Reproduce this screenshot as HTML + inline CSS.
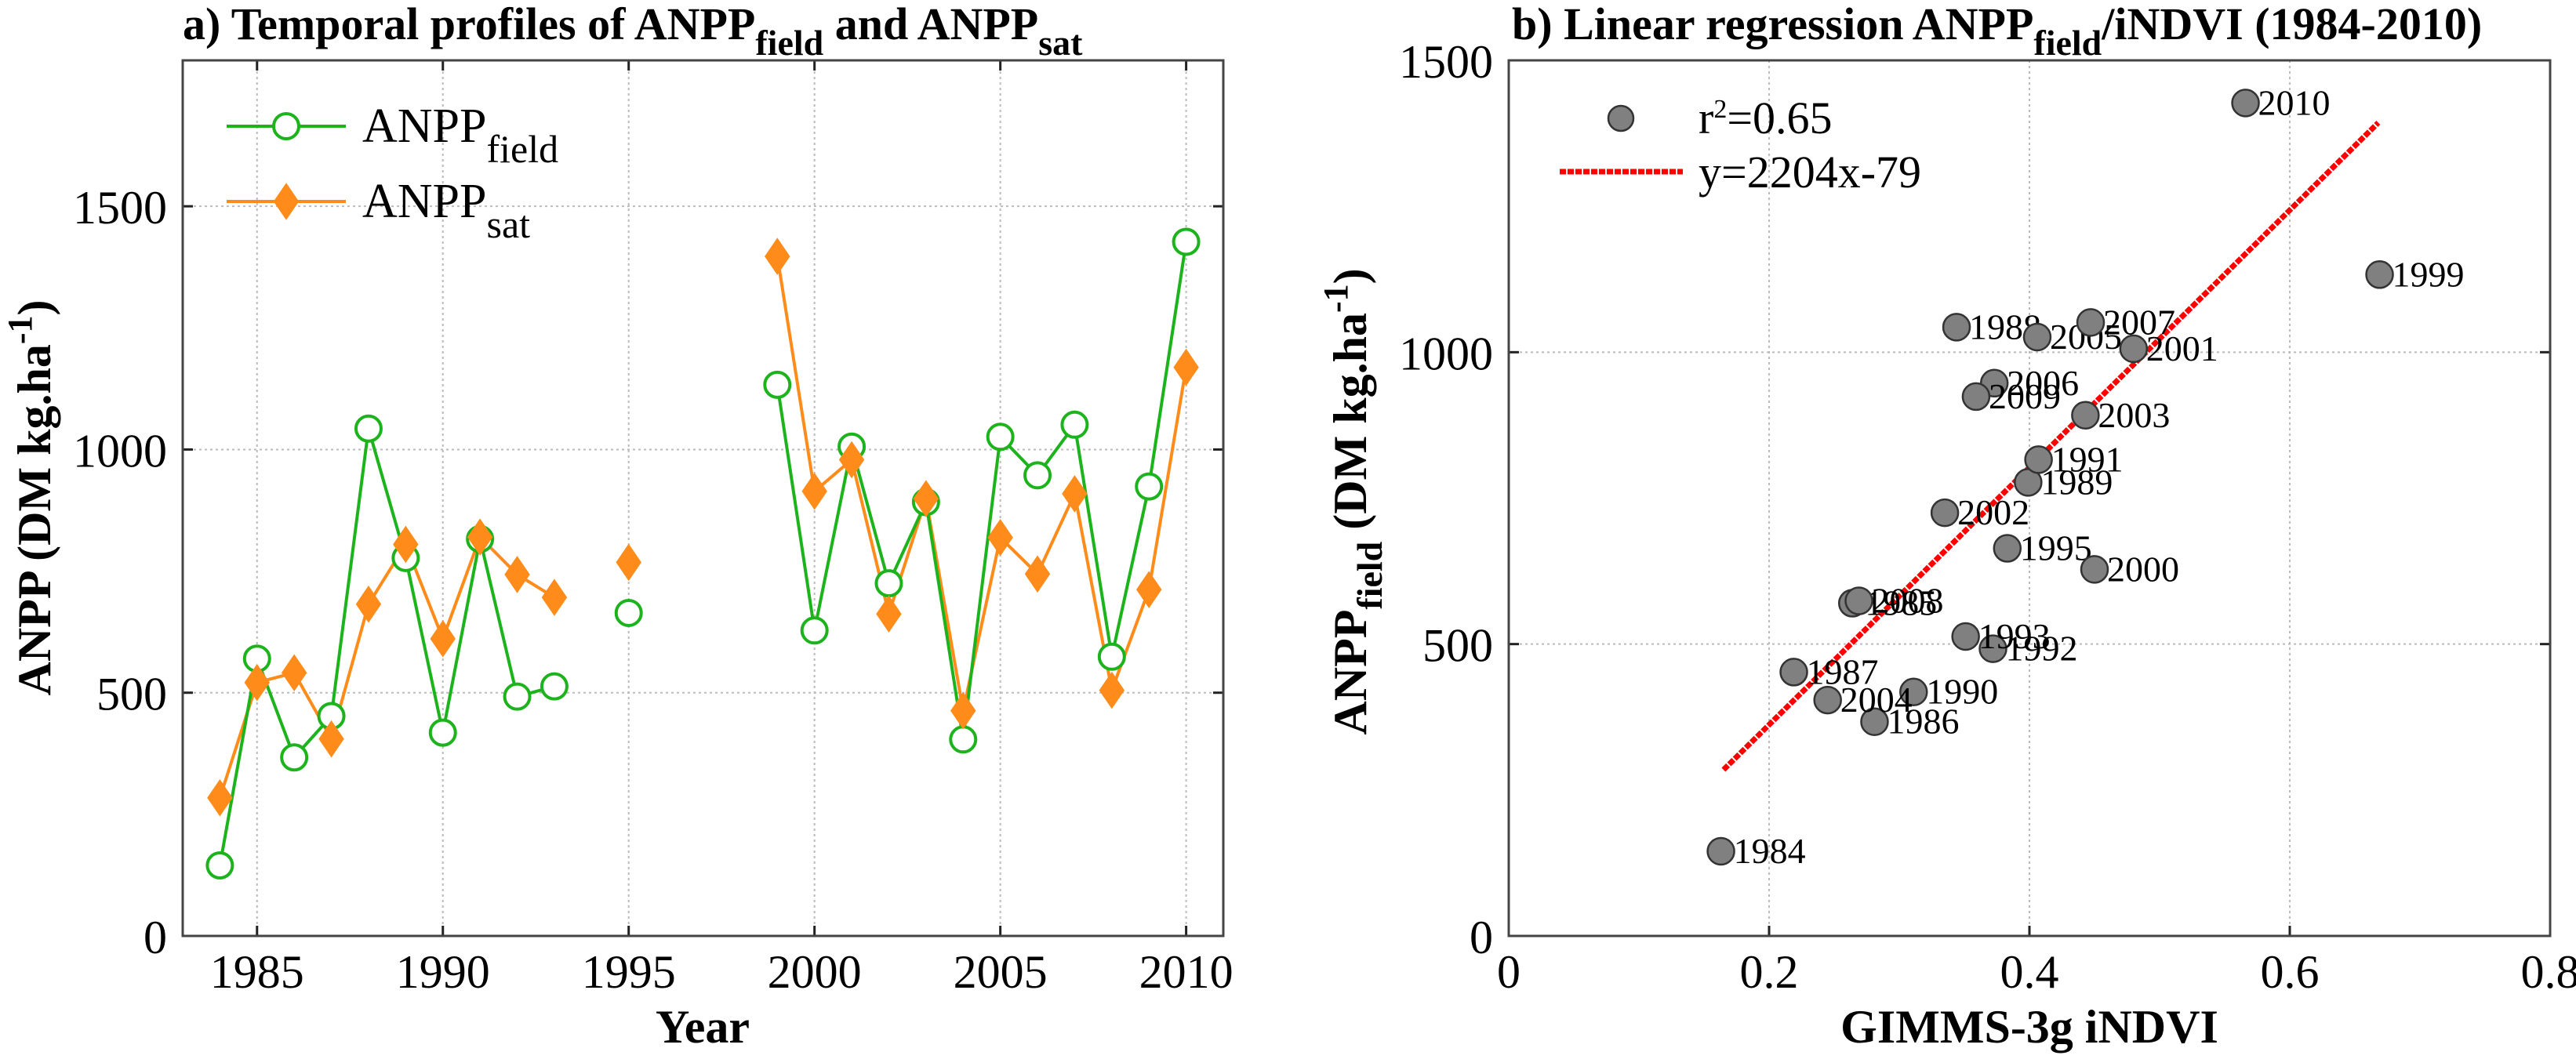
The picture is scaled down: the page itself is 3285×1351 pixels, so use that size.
<!DOCTYPE html>
<html><head><meta charset="utf-8"><style>
body{margin:0;background:#fff}
svg,svg text{font-family:"Liberation Serif","Times New Roman",serif}
</style></head><body>
<svg id="chart" width="3285" height="1346" viewBox="0 0 3285 1346" xmlns="http://www.w3.org/2000/svg" font-family="Liberation Serif, serif">
<g id="pa"></g>
<g id="pb"></g>
</svg>
<script>
const years = [1984,1985,1986,1987,1988,1989,1990,1991,1992,1993,1995,1999,2000,2001,2002,2003,2004,2005,2006,2007,2008,2009,2010];
const anppField = [145,570,367,452,1043,777,418,816,492,513,664,1133,628,1006,725,892,404,1026,947,1051,574,924,1427];
const anppSat = [284,521,541,405,682,805,611,820,743,696,768,1397,914,979,662,899,463,819,744,909,505,712,1169];
const indvi = [0.163,0.264,0.281,0.219,0.344,0.399,0.311,0.407,0.372,0.351,0.383,0.669,0.450,0.480,0.335,0.443,0.245,0.406,0.373,0.447,0.269,0.359,0.566];
const yearTicks = [1985,1990,1995,2000,2005,2010];
const anppTicksA = [0,500,1000,1500];
const indviTicks = [0,0.2,0.4,0.6,0.8];
const indviTickLabels = ["0","0.2","0.4","0.6","0.8"];
const anppTicksB = [0,500,1000,1500];
const regSlope = 2204, regIntercept = -79;
const regRange = [0.165, 0.668];

const NS="http://www.w3.org/2000/svg";
function mk(parent,tag,attrs,text){const e=document.createElementNS(NS,tag);for(const k in attrs)e.setAttribute(k,attrs[k]);if(tag==='text')e.setAttribute('font-family','Liberation Serif, serif');if(text!==undefined)e.textContent=text;parent.appendChild(e);return e;}

// ---------- Panel A ----------
const pa=document.getElementById('pa');
const A={l:233,r:1560,t:77,b:1194,x0:1983,x1:2011,y0:0,y1:1800};
const ax=v=>A.l+(v-A.x0)/(A.x1-A.x0)*(A.r-A.l);
const ay=v=>A.b-(v-A.y0)/(A.y1-A.y0)*(A.b-A.t);
yearTicks.forEach(t=>{
  const g=mk(pa,'line',{x1:ax(t),x2:ax(t),y1:A.t,y2:A.b,stroke:'#bbb','stroke-width':2,'stroke-dasharray':'3 4'});
  
  const tk=mk(pa,'line',{x1:ax(t),x2:ax(t),y1:A.b,y2:A.b-13,stroke:'#222','stroke-width':3});
  
  const tk2=mk(pa,'line',{x1:ax(t),x2:ax(t),y1:A.t,y2:A.t+13,stroke:'#222','stroke-width':3});
  
  const lb=mk(pa,'text',{x:ax(t),y:1260,'font-size':60,'text-anchor':'middle'},String(t));
  
});
anppTicksA.forEach(t=>{
  if(t>0){const g=mk(pa,'line',{x1:A.l,x2:A.r,y1:ay(t),y2:ay(t),stroke:'#bbb','stroke-width':2,'stroke-dasharray':'3 4'});
  }
  const tk=mk(pa,'line',{x1:A.l,x2:A.l+13,y1:ay(t),y2:ay(t),stroke:'#222','stroke-width':3});
  
  const tk2=mk(pa,'line',{x1:A.r,x2:A.r-13,y1:ay(t),y2:ay(t),stroke:'#222','stroke-width':3});
  
  const lb=mk(pa,'text',{x:A.l-20,y:ay(t)+22,'font-size':60,'text-anchor':'end'},String(t));
  
});
const boxA=mk(pa,'rect',{x:A.l,y:A.t,width:A.r-A.l,height:A.b-A.t,fill:'none',stroke:'#444','stroke-width':3});


function segPath(vals,fx,fy){
  let d='';for(let i=0;i<years.length;i++){const cmd=(i===0||years[i]-years[i-1]>1)?'M':'L';d+=cmd+fx(years[i])+' '+fy(vals[i])+' ';}return d;}
const satLine=mk(pa,'path',{d:segPath(anppSat,ax,ay),fill:'none',stroke:'#ff8c1a','stroke-width':4});

const fieldLine=mk(pa,'path',{d:segPath(anppField,ax,ay),fill:'none',stroke:'#1db31d','stroke-width':4});

function diamond(p,x,y){return mk(p,'polygon',{points:`${x},${y-22} ${x+15},${y} ${x},${y+22} ${x-15},${y}`,fill:'#ff8c1a',stroke:'#ff8c1a','stroke-width':2});}
years.forEach((yr,i)=>{
  const c=mk(pa,'circle',{cx:ax(yr),cy:ay(anppField[i]),r:16,fill:'#fff',stroke:'#1db31d','stroke-width':4});
  
});
years.forEach((yr,i)=>{
  const d=diamond(pa,ax(yr),ay(anppSat[i]));
  
});
const legA=mk(pa,'g',{});
const le1=mk(legA,'g',{});
mk(le1,'line',{x1:289,x2:441,y1:161,y2:161,stroke:'#1db31d','stroke-width':4});
mk(le1,'circle',{cx:365,cy:161,r:16,fill:'#fff',stroke:'#1db31d','stroke-width':4});
const t1=mk(le1,'text',{x:462,y:181,'font-size':62});t1.innerHTML='ANPP<tspan dy="26" font-size="50">field</tspan>';
const le2=mk(legA,'g',{});
mk(le2,'line',{x1:289,x2:441,y1:257,y2:257,stroke:'#ff8c1a','stroke-width':4});
diamond(le2,365,257);
const t2=mk(le2,'text',{x:462,y:277,'font-size':62});t2.innerHTML='ANPP<tspan dy="26" font-size="50">sat</tspan>';
</script>
<script>
// ---------- Panel B ----------
const pb=document.getElementById('pb');
const B={l:1924,r:3252,t:77,b:1194,x0:0,x1:0.8,y0:0,y1:1500};
const bx=v=>B.l+(v-B.x0)/(B.x1-B.x0)*(B.r-B.l);
const by=v=>B.b-(v-B.y0)/(B.y1-B.y0)*(B.b-B.t);
indviTicks.forEach((t,i)=>{
  if(t>0&&t<0.8){const g=mk(pb,'line',{x1:bx(t),x2:bx(t),y1:B.t,y2:B.b,stroke:'#bbb','stroke-width':2,'stroke-dasharray':'3 4'});
  }
  const tk=mk(pb,'line',{x1:bx(t),x2:bx(t),y1:B.b,y2:B.b-13,stroke:'#222','stroke-width':3});
  
  const lb=mk(pb,'text',{x:bx(t),y:1260,'font-size':60,'text-anchor':'middle'},indviTickLabels[i]);
  
});
anppTicksB.forEach(t=>{
  if(t>0&&t<1500){const g=mk(pb,'line',{x1:B.l,x2:B.r,y1:by(t),y2:by(t),stroke:'#bbb','stroke-width':2,'stroke-dasharray':'3 4'});
  }
  const tk=mk(pb,'line',{x1:B.l,x2:B.l+13,y1:by(t),y2:by(t),stroke:'#222','stroke-width':3});
  
  const tk2=mk(pb,'line',{x1:B.r,x2:B.r-13,y1:by(t),y2:by(t),stroke:'#222','stroke-width':3});
  
  const lb=mk(pb,'text',{x:B.l-20,y:by(t)+22,'font-size':60,'text-anchor':'end'},String(t));
  
});
const boxB=mk(pb,'rect',{x:B.l,y:B.t,width:B.r-B.l,height:B.b-B.t,fill:'none',stroke:'#444','stroke-width':3});

const reg=mk(pb,'line',{x1:bx(regRange[0]),y1:by(regSlope*regRange[0]+regIntercept),x2:bx(regRange[1]),y2:by(regSlope*regRange[1]+regIntercept),stroke:'#f00','stroke-width':7,'stroke-dasharray':'8 2'});

years.forEach((yr,i)=>{
  const c=mk(pb,'circle',{cx:bx(indvi[i]),cy:by(anppField[i]),r:17,fill:'#808080',stroke:'#333','stroke-width':2.5});
  
  const l=mk(pb,'text',{x:bx(indvi[i])+16,y:by(anppField[i])+15,'font-size':46},String(yr));
  
});
const legB=mk(pb,'g',{});
const lb1=mk(legB,'g',{});
mk(lb1,'circle',{cx:2067,cy:151,r:16,fill:'#808080',stroke:'#333','stroke-width':2.5});
const tr=mk(lb1,'text',{x:2166,y:170,'font-size':58});tr.innerHTML='r<tspan dy="-20" font-size="34">2</tspan><tspan dy="20">=0.65</tspan>';
const lb2=mk(legB,'g',{});
mk(lb2,'line',{x1:1989,x2:2146,y1:219,y2:219,stroke:'#f00','stroke-width':7,'stroke-dasharray':'8 2'});
mk(lb2,'text',{x:2166,y:239,'font-size':58},'y=2204x-79');
</script>
<script>
const svg=document.getElementById('chart');
function T(name,attrs,html){const e=mk(svg,'text',attrs);e.innerHTML=html;return e;}
T('title-a',{x:233,y:50,'font-size':58,'font-weight':'bold'},'a) Temporal profiles of ANPP<tspan dy="20" font-size="46">field</tspan><tspan dy="-20"> and ANPP</tspan><tspan dy="20" font-size="46">sat</tspan>');
T('title-b',{x:1928,y:50,'font-size':58,'font-weight':'bold'},'b) Linear regression ANPP<tspan dy="20" font-size="46">field</tspan><tspan dy="-20">/iNDVI (1984-2010)</tspan>');
T('x-axis-title-a',{x:896,y:1330,'font-size':60,'font-weight':'bold','text-anchor':'middle'},'Year');
T('x-axis-title-b',{x:2588,y:1330,'font-size':60,'font-weight':'bold','text-anchor':'middle'},'GIMMS-3g iNDVI');
T('y-axis-title-a',{x:0,y:0,'font-size':60,'font-weight':'bold','text-anchor':'middle',transform:'translate(64,635) rotate(-90)'},'ANPP (DM kg.ha<tspan dy="-24" font-size="44">-1</tspan><tspan dy="24">)</tspan>');
T('y-axis-title-b',{x:0,y:0,'font-size':60,'font-weight':'bold','text-anchor':'middle',transform:'translate(1742,640) rotate(-90)'},'ANPP<tspan dy="20" font-size="46">field</tspan><tspan dy="-20"> (DM kg.ha</tspan><tspan dy="-24" font-size="44">-1</tspan><tspan dy="24">)</tspan>');
</script>
</body></html>
